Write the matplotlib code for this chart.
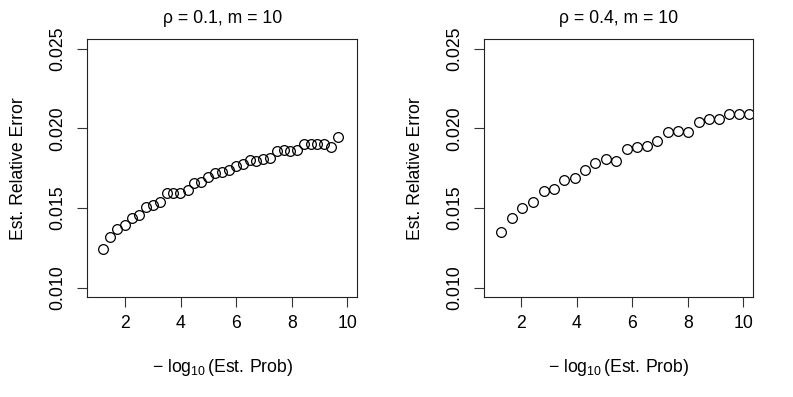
import matplotlib
matplotlib.use("Agg")
import matplotlib.pyplot as plt

plt.rcParams['font.family'] = ['Liberation Sans', 'DejaVu Sans']
plt.rcParams['mathtext.fontset'] = 'custom'
plt.rcParams['mathtext.rm'] = 'Liberation Sans'
plt.rcParams['mathtext.it'] = 'Liberation Sans:italic'
plt.rcParams['mathtext.bf'] = 'Liberation Sans:bold'

# ---- data ----
x_rho01 = [1.22, 1.47, 1.72, 1.98, 2.24, 2.49, 2.76, 3.00, 3.25, 3.50, 3.74, 3.99,
           4.25, 4.49, 4.74, 4.99, 5.23, 5.48, 5.74, 5.99, 6.23, 6.48, 6.72, 6.97,
           7.21, 7.47, 7.71, 7.95, 8.20, 8.43, 8.68, 8.92, 9.16, 9.40, 9.66]
y_rho01 = [0.01243, 0.01318, 0.01368, 0.01391, 0.01437, 0.01458, 0.01504, 0.01517,
           0.01538, 0.01594, 0.01592, 0.01598, 0.01615, 0.01659, 0.01661, 0.01697,
           0.01718, 0.01724, 0.01741, 0.01766, 0.01778, 0.01799, 0.01797, 0.01810,
           0.01812, 0.01856, 0.01866, 0.01860, 0.01866, 0.01904, 0.01904, 0.01904,
           0.01904, 0.01883, 0.01946]

x_rho04 = [1.27, 1.65, 2.02, 2.41, 2.80, 3.17, 3.54, 3.92, 4.29, 4.66, 5.05, 5.41,
           5.81, 6.16, 6.52, 6.89, 7.27, 7.65, 8.00, 8.39, 8.76, 9.13, 9.49, 9.84, 10.20]
y_rho04 = [0.01352, 0.01441, 0.01498, 0.01540, 0.01609, 0.01617, 0.01678, 0.01686,
           0.01738, 0.01782, 0.01808, 0.01795, 0.01874, 0.01883, 0.01891, 0.01921,
           0.01979, 0.01983, 0.01975, 0.02040, 0.02059, 0.02061, 0.02092, 0.02088, 0.02090]

titles = ['\u03c1 = 0.1, m = 10', '\u03c1 = 0.4, m = 10']
x_ticks = [2, 4, 6, 8, 10]
y_ticks = [0.010, 0.015, 0.020, 0.025]
y_ticklabels = ['0.010', '0.015', '0.020', '0.025']
xlabel = r'$-\ \log_{10}(\mathrm{Est.}\,$Prob)'
ylabel = 'Est. Relative Error'

W, H = 793, 397
fig = plt.figure(figsize=(W / 100, H / 100), dpi=100)

panels = [
    (87.3, 357.3, x_rho01, y_rho01, titles[0]),
    (483.7, 753.3, x_rho04, y_rho04, titles[1]),
]
top_px, bot_px = 39.3, 297.3
fs = 12.7

for left_px, right_px, xs, ys, title in panels:
    ax = fig.add_axes([left_px / W, 1 - bot_px / H,
                       (right_px - left_px) / W, (bot_px - top_px) / H])
    ax.plot(xs, ys, linestyle='none', marker='o', markersize=7,
            markerfacecolor='none', markeredgecolor='black', markeredgewidth=0.9)
    ax.set_xlim(1 - 0.36, 10 + 0.36)
    ax.set_ylim(0.010 - 0.0006, 0.025 + 0.0006)
    ax.set_xticks(x_ticks)
    ax.set_xticklabels([str(t) for t in x_ticks], fontsize=fs)
    ax.set_yticks(y_ticks)
    ax.set_yticklabels(y_ticklabels, fontsize=fs, rotation=90, va='center')
    ax.tick_params(axis='both', direction='out', length=7, width=0.8, color='#333333')
    ax.tick_params(axis='x', pad=6)
    ax.tick_params(axis='y', pad=8)
    for s in ax.spines.values():
        s.set_linewidth(0.8)
        s.set_color('#222222')
    cx = (left_px + right_px) / 2
    fig.text(cx / W, 1 - 23.3 / H, title, ha='center', va='baseline', fontsize=fs)
    fig.text(cx / W, 1 - 371.5 / H, xlabel, ha='center', va='baseline', fontsize=fs)
    fig.text((left_px - 68.5) / W, 1 - ((top_px + bot_px) / 2) / H, ylabel,
             rotation=90, ha='center', va='center', fontsize=fs)

fig.savefig('out.png', dpi=100)
